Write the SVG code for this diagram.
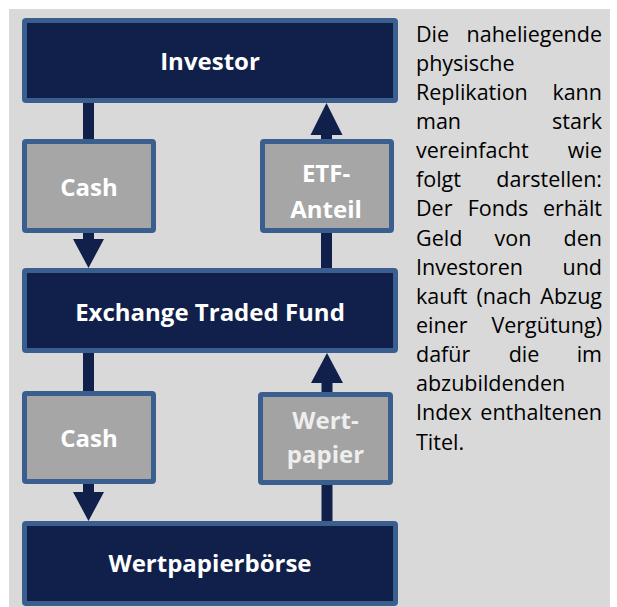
<svg xmlns="http://www.w3.org/2000/svg" width="617" height="607" viewBox="0 0 617 607">
<style>
.panel{fill:#d9d9d9}
.dark{fill:#10204a;stroke:#3a5f8f;stroke-width:5}
.grey{fill:#a6a6a6;stroke:#3a5f8f;stroke-width:5}
.arrow{fill:#10204a}
.lbl{font-family:"Open Sans","Noto Sans",sans-serif;font-weight:bold;font-size:24px;fill:#ffffff;text-anchor:middle}
.body{font-family:"Open Sans","Noto Sans",sans-serif;font-size:21.5px;fill:#000000}
.e{text-anchor:end}
.m{text-anchor:middle}
</style>
<rect class="panel" x="9" y="9" width="601" height="598"/>
<g id="connectors">
<polygon class="arrow" points="83,100 94,100 94,239 104,239 88.5,268 73,239 83,239"/>
<polygon class="arrow" points="326.5,103 342.5,135 332,135 332,270 321,270 321,135 310.5,135"/>
<polygon class="arrow" points="83,350 94,350 94,492 104,492 88.5,521 73,492 83,492"/>
<polygon class="arrow" points="327,353 343,383 332.5,383 332.5,523 321.5,523 321.5,383 311,383"/>
</g>
<g id="investor">
<rect class="dark" x="24.5" y="20.5" width="371" height="80" rx="1.5"/>
<text class="lbl" x="210" y="70">Investor</text>
</g>
<g id="cash1">
<rect class="grey" x="24.5" y="141.5" width="129" height="89" rx="1.5"/>
<text class="lbl" x="89" y="196">Cash</text>
</g>
<g id="etf-anteil">
<rect class="grey" x="262.5" y="141.5" width="129" height="89" rx="1.5"/>
<text class="lbl" x="326" y="182">ETF-</text>
<text class="lbl" x="326" y="218">Anteil</text>
</g>
<g id="etf">
<rect class="dark" x="24.5" y="270.5" width="371" height="80" rx="1.5"/>
<text class="lbl" x="210" y="321">Exchange Traded Fund</text>
</g>
<g id="cash2">
<rect class="grey" x="24.5" y="393.5" width="129" height="88" rx="1.5"/>
<text class="lbl" x="89" y="447">Cash</text>
</g>
<g id="wertpapier">
<rect class="grey" x="260.5" y="394.5" width="130" height="88" rx="1.5" style="fill:#a3a3a3"/>
<text class="lbl" x="325.5" y="429" style="fill:#eeeeee">Wert-</text>
<text class="lbl" x="325.5" y="463" style="fill:#eeeeee">papier</text>
</g>
<g id="boerse">
<rect class="dark" x="24.5" y="523.5" width="371" height="80" rx="1.5"/>
<text class="lbl" x="210" y="572">Wertpapierbörse</text>
</g>
<g id="description" class="body">
<text x="416" y="41.5">Die</text><text class="e" x="602" y="41.5">naheliegende</text>
<text x="416" y="70.6">physische</text>
<text x="416" y="99.8">Replikation</text><text class="e" x="602" y="99.8">kann</text>
<text x="416" y="128.9">man</text><text class="e" x="602" y="128.9">stark</text>
<text x="416" y="158.1">vereinfacht</text><text class="e" x="602" y="158.1">wie</text>
<text x="416" y="187.2">folgt</text><text class="e" x="602" y="187.2">darstellen:</text>
<text x="416" y="216.4">Der</text><text class="m" x="498" y="216.4">Fonds</text><text class="e" x="602" y="216.4">erhält</text>
<text x="416" y="245.5">Geld</text><text class="m" x="513" y="245.5">von</text><text class="e" x="602" y="245.5">den</text>
<text x="416" y="274.7">Investoren</text><text class="e" x="602" y="274.7">und</text>
<text x="416" y="303.8">kauft</text><text class="m" x="504" y="303.8">(nach</text><text class="e" x="602" y="303.8">Abzug</text>
<text x="416" y="333">einer</text><text class="e" x="602" y="333">Vergütung)</text>
<text x="416" y="362.1">dafür</text><text class="m" x="524" y="362.1">die</text><text class="e" x="602" y="362.1">im</text>
<text x="416" y="391.3">abzubildenden</text>
<text x="416" y="420.4">Index</text><text class="e" x="602" y="420.4">enthaltenen</text>
<text x="416" y="449.6">Titel.</text>
</g>
</svg>
